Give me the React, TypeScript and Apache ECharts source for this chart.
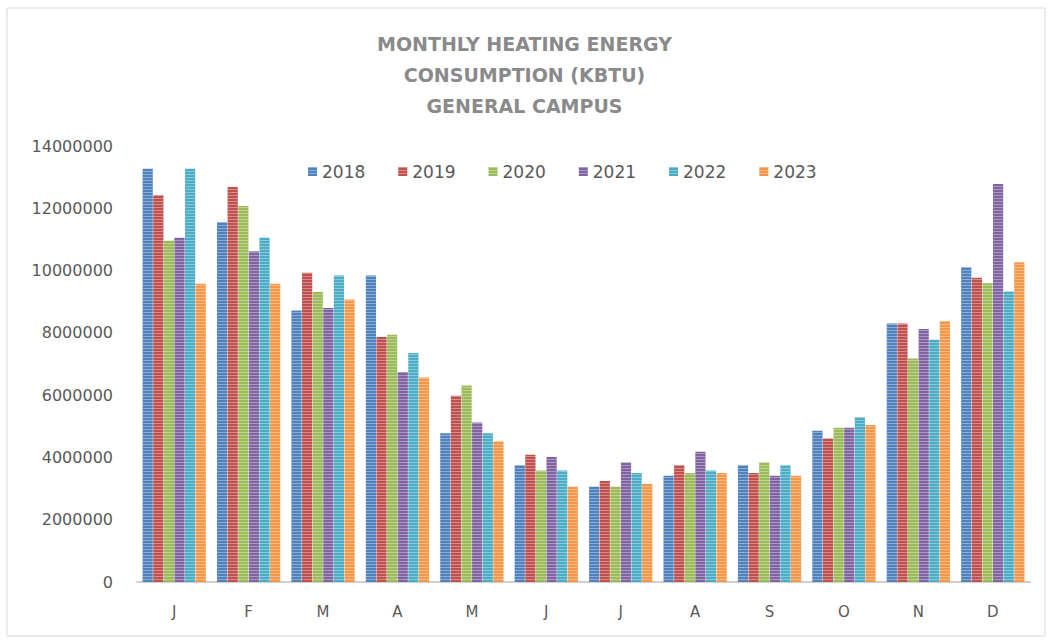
import React, { useEffect, useRef } from "react";
import * as echarts from "echarts";

const months = ["J", "F", "M", "A", "M", "J", "J", "A", "S", "O", "N", "D"];
const years = ["2018", "2019", "2020", "2021", "2022", "2023"];
const colors = ["#4f81bd", "#c0504d", "#9bbb59", "#8064a2", "#4bacc6", "#f79646"];

const v2018 = [13270000, 11550000, 8720000, 9840000, 4780000, 3750000, 3060000, 3410000, 3750000, 4860000, 8300000, 10110000];
const v2019 = [12420000, 12680000, 9930000, 7870000, 5980000, 4090000, 3240000, 3750000, 3500000, 4610000, 8300000, 9770000];
const v2020 = [10960000, 12070000, 9310000, 7940000, 6310000, 3580000, 3060000, 3500000, 3840000, 4950000, 7180000, 9590000];
const v2021 = [11050000, 10620000, 8800000, 6740000, 5120000, 4010000, 3840000, 4180000, 3410000, 4950000, 8120000, 12780000];
const v2022 = [13270000, 11050000, 9840000, 7350000, 4780000, 3580000, 3500000, 3580000, 3750000, 5290000, 7780000, 9330000];
const v2023 = [9580000, 9580000, 9070000, 6570000, 4510000, 3060000, 3150000, 3500000, 3410000, 5040000, 8380000, 10270000];

const seriesValues = [v2018, v2019, v2020, v2021, v2022, v2023];

const yTicks = [0, 2000000, 4000000, 6000000, 8000000, 10000000, 12000000, 14000000];

export default function App() {
  const ref = useRef<HTMLDivElement>(null);
  useEffect(() => {
    if (!ref.current) return;
    const chart = echarts.init(ref.current, undefined, { renderer: "svg" });
    chart.setOption({
      animation: false,
      backgroundColor: "#ffffff",
      title: {
        text: "MONTHLY HEATING ENERGY\nCONSUMPTION (KBTU)\nGENERAL CAMPUS",
        left: "center",
        top: 23,
        textStyle: {
          fontFamily: "DejaVu Sans",
          fontWeight: "bold",
          fontSize: 19,
          lineHeight: 31,
          color: "#8a8a8a",
        },
      },
      legend: {
        data: years,
        top: 158,
        left: 303,
        itemWidth: 9,
        itemHeight: 9,
        itemGap: 33,
        icon: "rect",
        textStyle: {
          fontFamily: "DejaVu Sans",
          fontSize: 17,
          color: "#595959",
          padding: [0, 0, 0, 0],
        },
      },
      grid: {
        left: 137,
        right: 19,
        top: 146,
        bottom: 58,
        containLabel: false,
      },
      xAxis: {
        type: "category",
        data: months,
        axisLine: { lineStyle: { color: "#d0d0d0", width: 2 } },
        axisTick: { show: false },
        axisLabel: {
          fontFamily: "DejaVu Sans",
          fontSize: 15,
          color: "#595959",
          margin: 22,
        },
      },
      yAxis: {
        type: "value",
        min: yTicks[0],
        max: yTicks[yTicks.length - 1],
        interval: 2000000,
        splitLine: { show: false },
        axisLine: { show: false },
        axisTick: { show: false },
        axisLabel: {
          fontFamily: "DejaVu Sans",
          fontSize: 16,
          color: "#595959",
          margin: 24,
          formatter: (v: number) => String(v),
        },
      },
      series: years.map((y, i) => ({
        name: y,
        type: "bar",
        data: seriesValues[i],
        barGap: "4%",
        barCategoryGap: "15%",
        itemStyle: {
          color: colors[i],
          decal: {
            symbol: "rect",
            symbolSize: 1,
            dashArrayX: [1, 0],
            dashArrayY: [1, 2],
            color: "rgba(255,255,255,0.35)",
          },
        },
      })),
      graphic: [
        {
          type: "rect",
          shape: { x: 7, y: 8, width: 1038, height: 628 },
          style: { fill: "none", stroke: "#d9d9d9", lineWidth: 1 },
          silent: true,
        },
      ],
    });
    return () => chart.dispose();
  }, []);
  return (
    <div
      ref={ref}
      style={{ position: "fixed", left: 0, top: 0, width: 1049, height: 640 }}
    />
  );
}
